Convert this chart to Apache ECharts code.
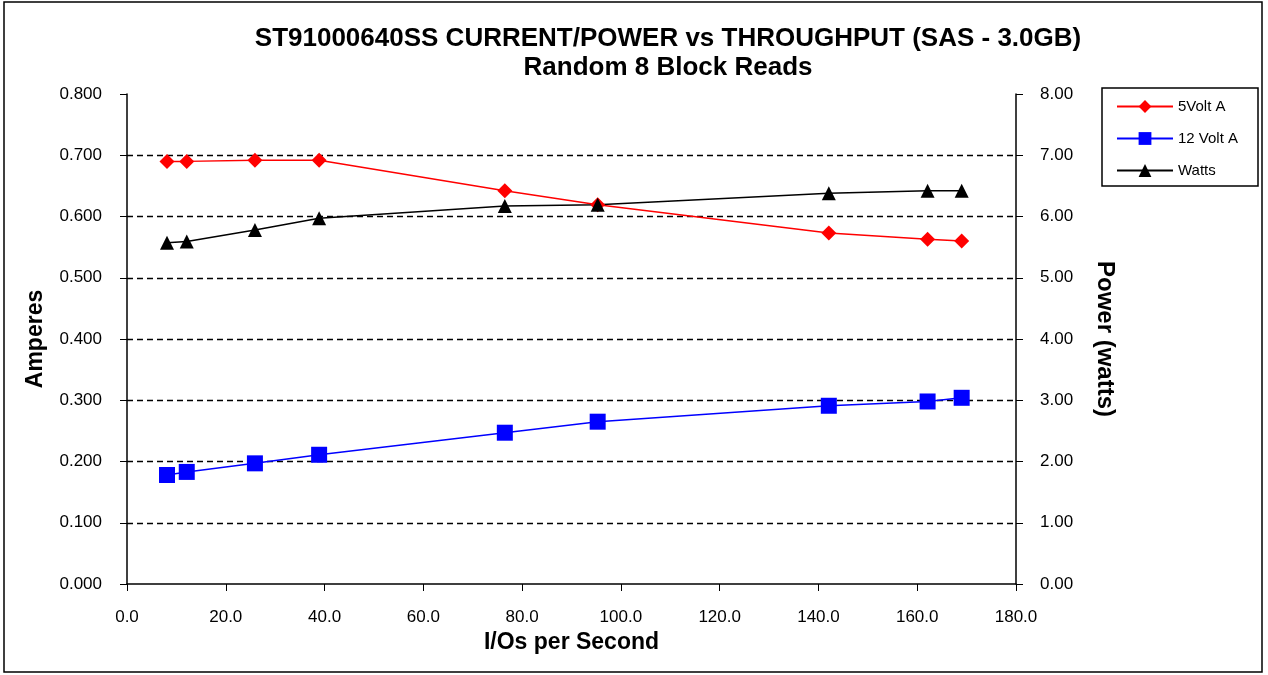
<!DOCTYPE html>
<html><head><meta charset="utf-8">
<script src="https://cdn.jsdelivr.net/npm/echarts@6/dist/echarts.min.js"></script>
<style>html,body{margin:0;padding:0;background:#fff}#c{width:1268px;height:675px}</style>
</head><body><div id="c"></div>
<script>
const iops = [8.1, 12.1, 25.9, 38.9, 76.5, 95.3, 142.1, 162.1, 169.0];
const volt5 = [0.690, 0.690, 0.692, 0.692, 0.642, 0.619, 0.573, 0.563, 0.560];
const volt12 = [0.178, 0.183, 0.197, 0.211, 0.247, 0.265, 0.291, 0.298, 0.304];
const watts = [5.57, 5.59, 5.78, 5.97, 6.17, 6.19, 6.38, 6.42, 6.42];
const seriesNames = ['5Volt A', '12 Volt A', 'Watts'];
const titleText = 'ST91000640SS CURRENT/POWER vs THROUGHPUT (SAS - 3.0GB)';
const subtitleText = 'Random 8 Block Reads';

const pairs = (xs, ys) => xs.map((x, i) => [x, ys[i]]);
const FONT = '"Liberation Sans", Arial, sans-serif';
const chart = echarts.init(document.getElementById('c'), null, {renderer: 'canvas'});
chart.setOption({
  backgroundColor: '#fff',
  animation: false,
  title: {
    text: titleText + '\n' + subtitleText,
    left: 663, top: 19, textAlign: 'center',
    textStyle: {fontFamily: FONT, fontWeight: 'bold', fontSize: 26, color: '#000', lineHeight: 29}
  },
  graphic: [
    {type: 'rect', shape: {x: 4, y: 2, width: 1258, height: 670}, style: {fill: 'none', stroke: '#000', lineWidth: 1.5}, silent: true},
    {type: 'rect', shape: {x: 1102, y: 88, width: 156, height: 98}, style: {fill: '#fff', stroke: '#000', lineWidth: 1.5}, z: 0, silent: true}
  ],
  legend: {
    orient: 'vertical', left: 1111, top: 94, itemGap: 17,
    itemWidth: 56, itemHeight: 16,
    textStyle: {fontFamily: FONT, fontSize: 15, color: '#000'},
    data: seriesNames
  },
  grid: {left: 127, right: 252, top: 94, bottom: 91},
  xAxis: {
    type: 'value', min: 0, max: 180, interval: 20,
    name: 'I/Os per Second', nameLocation: 'middle', nameGap: 34,
    nameTextStyle: {fontFamily: FONT, fontWeight: 'bold', fontSize: 23, color: '#000'},
    axisLine: {lineStyle: {color: '#000', width: 1.5}},
    axisTick: {show: true, length: 7, lineStyle: {color: '#000'}},
    axisLabel: {fontFamily: FONT, fontSize: 17, color: '#000', margin: 25, formatter: v => v.toFixed(1)},
    splitLine: {show: false}
  },
  yAxis: [
    {
      type: 'value', min: 0, max: 0.8, interval: 0.1, position: 'left',
      name: 'Amperes', nameLocation: 'middle', nameGap: 80, nameRotate: 90,
      nameTextStyle: {fontFamily: FONT, fontWeight: 'bold', fontSize: 23, color: '#000'},
      axisLine: {show: true, lineStyle: {color: '#000', width: 1.5}},
      axisTick: {show: true, length: 7, lineStyle: {color: '#000'}},
      axisLabel: {fontFamily: FONT, fontSize: 17, color: '#000', margin: 25, formatter: v => v.toFixed(3)},
      splitLine: {show: true, showMaxLine: false, showMinLine: false, lineStyle: {color: '#000', type: [6, 4], width: 1.3}}
    },
    {
      type: 'value', min: 0, max: 8, interval: 1, position: 'right',
      name: 'Power (watts)', nameLocation: 'middle', nameGap: 77, nameRotate: -90,
      nameTextStyle: {fontFamily: FONT, fontWeight: 'bold', fontSize: 24, color: '#000'},
      axisLine: {show: true, lineStyle: {color: '#000', width: 1.5}},
      axisTick: {show: true, length: 7, lineStyle: {color: '#000'}},
      axisLabel: {fontFamily: FONT, fontSize: 17, color: '#000', margin: 24, formatter: v => v.toFixed(2)},
      splitLine: {show: false}
    }
  ],
  series: [
    {name: seriesNames[0], type: 'line', yAxisIndex: 0, data: pairs(iops, volt5),
     symbol: 'diamond', symbolSize: 15, lineStyle: {color: '#ff0000', width: 1.5},
     itemStyle: {color: '#ff0000'}, z: 3},
    {name: seriesNames[1], type: 'line', yAxisIndex: 0, data: pairs(iops, volt12),
     symbol: 'rect', symbolSize: 16, lineStyle: {color: '#0000ff', width: 1.5},
     itemStyle: {color: '#0000ff'}, z: 3},
    {name: seriesNames[2], type: 'line', yAxisIndex: 1, data: pairs(iops, watts),
     symbol: 'triangle', symbolSize: 14, lineStyle: {color: '#000', width: 1.5},
     itemStyle: {color: '#000'}, z: 3}
  ]
});
</script></body></html>
